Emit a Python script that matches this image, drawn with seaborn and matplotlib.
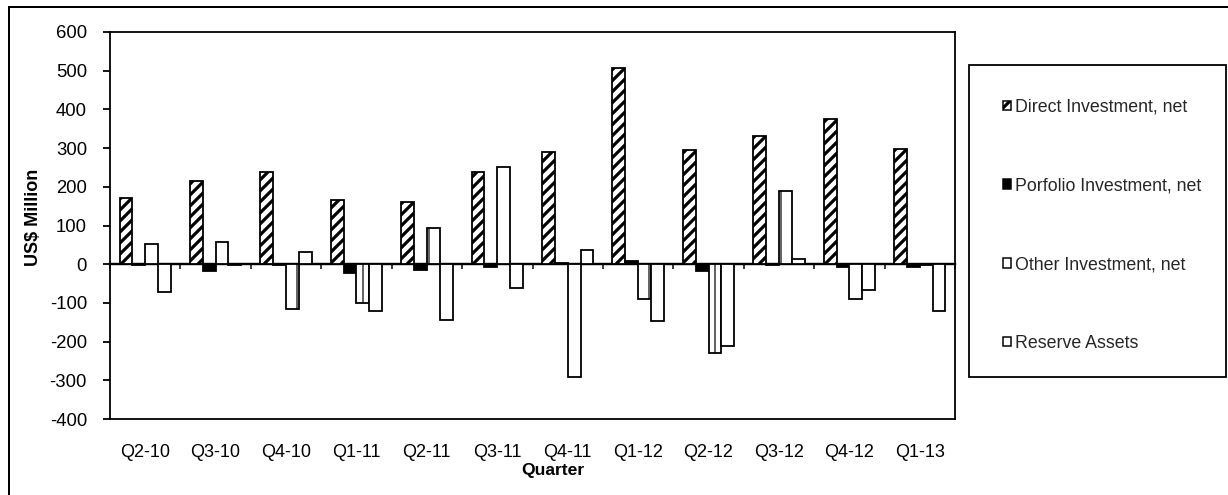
import numpy as np
import pandas as pd
import matplotlib
matplotlib.use('Agg')
import matplotlib.pyplot as plt
from matplotlib.patches import Rectangle
import seaborn as sns

# values (US$ million)
quarters = ['Q2-10', 'Q3-10', 'Q4-10', 'Q1-11', 'Q2-11', 'Q3-11',
            'Q4-11', 'Q1-12', 'Q2-12', 'Q3-12', 'Q4-12', 'Q1-13']
direct = [170, 215, 238, 166, 162, 238, 290, 507, 294, 330, 375, 298]
portfolio = [-3, -18, -3, -22, -14, -8, 4, 7, -17, -3, -8, -8]
other = [53, 57, -117, -99, 94, 252, -292, -90, -230, 190, -90, -2]
reserve = [-72, -3, 32, -121, -145, -62, 37, -148, -212, 14, -67, -122]
series_names = ['Direct Investment, net', 'Porfolio Investment, net',
                'Other Investment, net', 'Reserve Assets']
y_ticks = list(range(-400, 601, 100))

DPI = 132
W, H = 1228, 495


def px(v):
    # pixel size -> points at the output dpi
    return v * 72 / DPI


df = pd.DataFrame({
    'quarter': quarters * 4,
    'series': np.repeat(series_names, len(quarters)),
    'value': direct + portfolio + other + reserve,
})

sns.set_theme(style='white')
plt.rcParams['font.family'] = ['Liberation Sans', 'DejaVu Sans']
plt.rcParams['axes.unicode_minus'] = False
plt.rcParams['hatch.linewidth'] = px(3.2)

fig = plt.figure(figsize=(W / DPI, H / DPI), dpi=DPI)
ax = fig.add_axes([110 / W, 76 / H, 845 / W, 387 / H])

sns.barplot(data=df, x='quarter', y='value', hue='series', order=quarters,
            hue_order=series_names, palette=['white', 'black', 'white', 'white'],
            edgecolor='black', linewidth=px(1.8), width=0.73, errorbar=None,
            ax=ax)

hatches = ['////', '', '|', '']
hatch_lw = [px(3.2), px(1), px(1.2), px(1)]
handles = []
for cont, h, hl in zip(ax.containers, hatches, hatch_lw):
    for p in cont:
        p.set_hatch(h)
        if hasattr(p, 'set_hatch_linewidth'):
            p.set_hatch_linewidth(hl)
    handles.append(Rectangle((0, 0), 1, 1, facecolor=cont[0].get_facecolor(),
                             edgecolor='black', hatch=h, linewidth=px(1.5)))
ax.get_legend().remove()

ax.set_ylim(y_ticks[0], y_ticks[-1])
ax.set_yticks(y_ticks)
ax.tick_params(axis='y', left=True, direction='out', length=px(7),
               width=px(1.8), pad=px(16), labelsize=px(18.5), colors='black')
ax.tick_params(axis='x', bottom=False, length=0, pad=px(25), labelsize=px(18),
               colors='black')
for s in ax.spines.values():
    s.set_visible(True)
    s.set_color('black')
    s.set_linewidth(px(1.8))

# category axis line crossing at zero with ticks between quarters
zero_loc = (0 - y_ticks[0]) / (y_ticks[-1] - y_ticks[0])
sec = ax.secondary_xaxis(zero_loc)
sec.set_xticks(np.arange(len(quarters) + 1) - 0.5)
sec.tick_params(direction='out', length=px(5), width=px(1.5),
                labelbottom=False, colors='black')
sec.spines['bottom'].set_linewidth(px(2.4))
sec.spines['bottom'].set_color('black')

ax.set_xlabel('Quarter', fontsize=px(17.5), fontweight='bold', color='black')
ax.xaxis.set_label_coords(0.524, -0.132)
ax.xaxis.label.set_va('center')
ax.set_ylabel('US$ Million', fontsize=px(18), fontweight='bold', color='black')
ax.yaxis.set_label_coords(-0.0905, 0.522)
ax.yaxis.label.set_va('center')

fig.legend(handles, series_names, loc='upper left',
           bbox_to_anchor=(1003 / W, 1 - 99 / H), frameon=False,
           fontsize=px(17.8), handlelength=0.45, handleheight=0.45,
           handletextpad=0.2, labelspacing=3.46, borderpad=0, borderaxespad=0)

# legend box and outer chart border
fig.add_artist(Rectangle((969 / W, 1 - 377 / H), 257 / W, 312 / H,
                         transform=fig.transFigure, fill=False,
                         edgecolor='black', linewidth=px(1.8)))
fig.add_artist(Rectangle((9 / W, -0.1), 1.2, 1 - 7 / H + 0.1,
                         transform=fig.transFigure, fill=False,
                         edgecolor='black', linewidth=px(2)))

fig.savefig('out.png', dpi=DPI)
